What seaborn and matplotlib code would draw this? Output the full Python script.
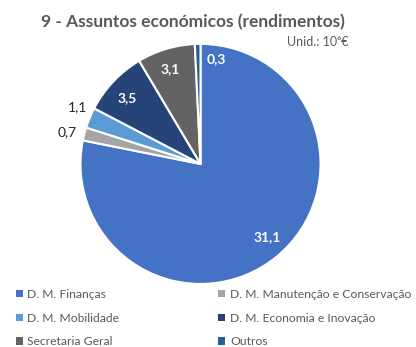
import numpy as np
import matplotlib
matplotlib.use("Agg")
import matplotlib.pyplot as plt
import seaborn as sns

# Receita por entidade (milhões de euros)
categories = [
    "D. M. Finanças",
    "D. M. Manutenção e Conservação",
    "D. M. Mobilidade",
    "D. M. Economia e Inovação",
    "Secretaria Geral",
    "Outros",
]
values = [31.1, 0.7, 1.1, 3.5, 3.1, 0.3]
colors = ["#4472C4", "#A5A5A5", "#5B9BD5", "#264478", "#636363", "#255E91"]
title = "9 - Assuntos económicos (rendimentos)"
unit_label = "Unid.: 10⁶€"

sns.set_theme(style="white")
plt.rcParams["font.family"] = ["Lato", "DejaVu Sans"]

fig = plt.figure(figsize=(4.16, 3.47), dpi=100)
ax = fig.add_axes([0.1935, 0.1816, 0.577, 0.692])

wedges, _ = ax.pie(
    values,
    colors=colors,
    startangle=90,
    counterclock=False,
    wedgeprops=dict(edgecolor="white", linewidth=1.5),
)
ax.set_xlim(-1, 1)
ax.set_ylim(-1, 1)
ax.set_aspect("equal")

# label placement: (radius factor, angular shift in degrees, inside?)
placement = [
    (0.83, 3, True),
    (1.14, 1, False),
    (1.13, -2, False),
    (0.82, 1.5, True),
    (0.83, 1, True),
    (0.88, -10, True),
]
for w, v, (rf, dth, inside) in zip(wedges, values, placement):
    theta = np.deg2rad((w.theta1 + w.theta2) / 2 + dth)
    x, y = rf * np.cos(theta), rf * np.sin(theta)
    txt = f"{v:.1f}".replace(".", ",")
    if inside:
        ax.text(x, y, txt, ha="center", va="center", color="white",
                fontsize=10, fontweight="bold")
    else:
        ax.text(x, y, txt, ha="center", va="center", color="#262626",
                fontsize=10)

fig.text(0.464, 0.935, title, ha="center", va="center", fontsize=12.5,
         fontweight="bold", color="#595959")
fig.text(0.838, 0.878, unit_label, ha="right", va="center", fontsize=9,
         color="#595959")

order = [0, 2, 4, 1, 3, 5]
leg = fig.legend(
    [wedges[i] for i in order],
    [categories[i] for i in order],
    ncol=2,
    loc="lower left",
    bbox_to_anchor=(0.012, -0.032),
    frameon=False,
    fontsize=8.7,
    handlelength=0.55,
    handleheight=0.55,
    handletextpad=0.4,
    columnspacing=8.2,
    labelspacing=1.05,
)
for t in leg.get_texts():
    t.set_color("#595959")
for h in leg.legend_handles:
    h.set_edgecolor("none")

fig.savefig("out.png", dpi=100)
